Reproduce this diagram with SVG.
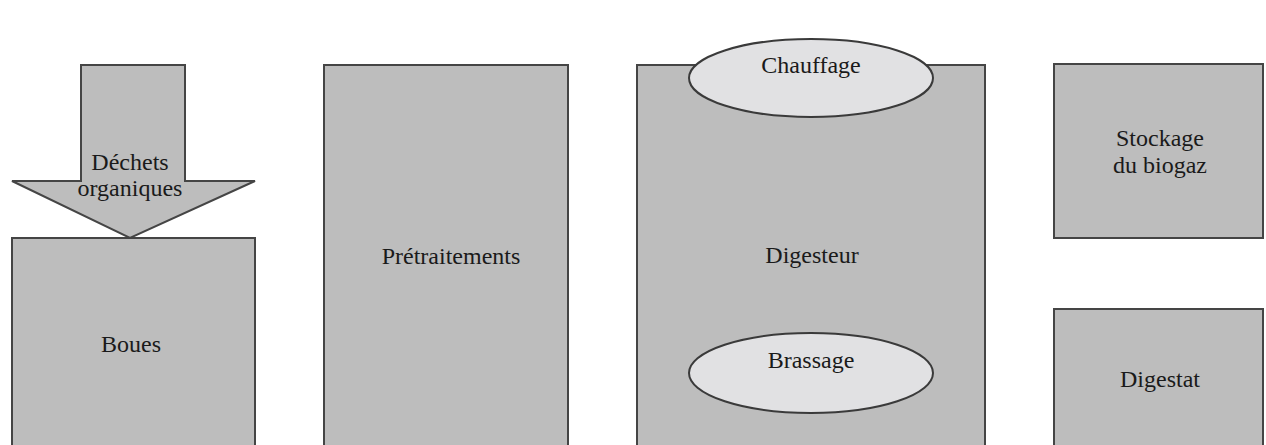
<svg xmlns="http://www.w3.org/2000/svg" width="1266" height="445" viewBox="0 0 1266 445">
<style>
.box{fill:#bdbdbd;stroke:#454545;stroke-width:2}
.ell{fill:#e1e1e3;stroke:#3a3a3a;stroke-width:2}
.t{font-family:"Liberation Serif","Times New Roman",serif;font-size:24px;fill:#1a1a1a;text-anchor:middle}
</style>
<rect width="1266" height="445" fill="#ffffff"/>
<g id="boues">
<rect class="box" x="12" y="238" width="243" height="215"/>
<text class="t" x="131" y="352">Boues</text>
</g>
<g id="dechets">
<polygon class="box" points="81,65 185,65 185,181 255,181 130,238 12,181 81,181"/>
<text class="t" x="130" y="170">Déchets</text>
<text class="t" x="130" y="196">organiques</text>
</g>
<g id="pretraitements">
<rect class="box" x="324" y="65" width="244" height="390"/>
<text class="t" x="451" y="264">Prétraitements</text>
</g>
<g id="digesteur">
<rect class="box" x="637" y="65" width="348" height="390"/>
<text class="t" x="812" y="263">Digesteur</text>
</g>
<g id="chauffage">
<ellipse class="ell" cx="811" cy="78" rx="122" ry="39"/>
<text class="t" x="811" y="73">Chauffage</text>
</g>
<g id="brassage">
<ellipse class="ell" cx="811" cy="373" rx="122" ry="40"/>
<text class="t" x="811" y="368">Brassage</text>
</g>
<g id="stockage">
<rect class="box" x="1054" y="64" width="209" height="174"/>
<text class="t" x="1160" y="146">Stockage</text>
<text class="t" x="1160" y="173">du biogaz</text>
</g>
<g id="digestat">
<rect class="box" x="1054" y="309" width="209" height="150"/>
<text class="t" x="1160" y="387">Digestat</text>
</g>
<g id="connectors"></g>
</svg>
